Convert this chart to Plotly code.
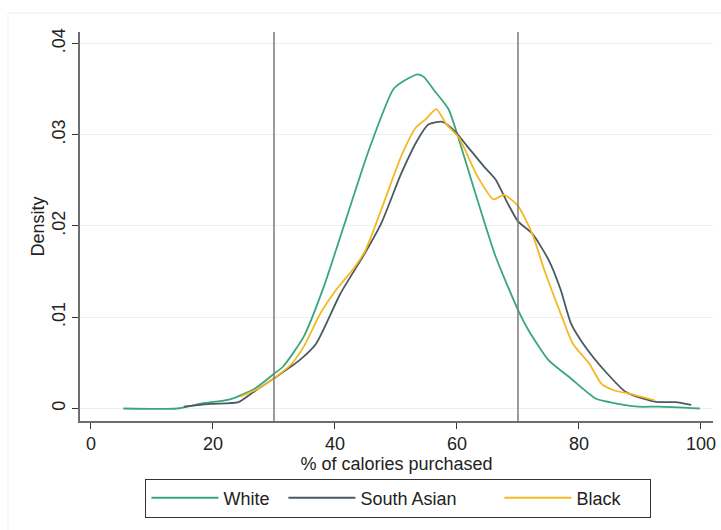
import plotly.graph_objects as go

# Kernel density estimates
white_x = [5.3, 14.1, 18.2, 22.8, 26.9, 30.0, 31.5, 34.9, 38.2, 41.6, 45.6, 49.6, 51.6, 53.6, 54.6,
           56.3, 58.6, 60.3, 63.0, 66.3, 70.0, 71.7, 75.0, 78.3, 82.7, 85.0, 89.7, 93.0, 99.8]
white_y = [0.0, 0.0, 0.00055, 0.001, 0.0022, 0.0038, 0.0046, 0.0079, 0.0134, 0.0203, 0.0284, 0.035,
           0.036, 0.0366, 0.0363, 0.0348, 0.0328, 0.0295, 0.0236, 0.0167, 0.0108, 0.0086, 0.0053,
           0.0035, 0.0011, 0.0007, 0.0002, 0.0002, 0.0]

sa_x = [15.2, 19.5, 24.2, 26.2, 30.0, 34.2, 36.9, 40.9, 44.9, 47.6, 50.9, 53.6, 55.3, 57.6, 59.6,
        61.6, 64.3, 66.3, 68.3, 70.0, 72.3, 75.0, 77.0, 78.7, 81.0, 84.4, 87.7, 90.4, 93.0, 95.8, 98.4]
sa_y = [0.0002, 0.0005, 0.0007, 0.0016, 0.0033, 0.0053, 0.0071, 0.0126, 0.017, 0.0203, 0.0258,
        0.0295, 0.0311, 0.0314, 0.0304, 0.0288, 0.0266, 0.0251, 0.0225, 0.0205, 0.0192, 0.0163,
        0.013, 0.0093, 0.0068, 0.004, 0.0018, 0.0011, 0.0007, 0.0007, 0.0004]

black_x = [24.5, 27.5, 30.0, 32.9, 34.9, 37.6, 40.2, 42.9, 44.9, 47.6, 50.9, 53.3, 54.9, 56.6, 58.3,
           60.3, 63.3, 66.0, 67.7, 70.0, 72.3, 74.3, 77.0, 79.0, 81.7, 83.7, 85.7, 88.4, 92.4]
black_y = [0.0013, 0.0022, 0.0033, 0.0049, 0.0068, 0.0104, 0.013, 0.0152, 0.0172, 0.0218, 0.0277,
           0.0308, 0.0317, 0.0328, 0.0311, 0.0297, 0.0255, 0.0229, 0.0234, 0.0222, 0.0192, 0.0152,
           0.0104, 0.0071, 0.0049, 0.0027, 0.002, 0.0016, 0.0009]

ref_lines = [30, 70]
y_tickvals = [0, 0.01, 0.02, 0.03, 0.04]
y_ticktext = ["0", ".01", ".02", ".03", ".04"]
x_tickvals = [0, 20, 40, 60, 80, 100]

FONT = "Liberation Sans, Arial, sans-serif"
ITEMW = 67
legend_widths = [55, 134, 69]

fig = go.Figure()
series = [
    ("White", white_x, white_y, "#3aa67c"),
    ("South Asian", sa_x, sa_y, "#4a5964"),
    ("Black", black_x, black_y, "#f4b823"),
]
for (name, xs, ys, col), lw in zip(series, legend_widths):
    fig.add_trace(go.Scatter(x=xs, y=ys, mode="lines", name=name, legendwidth=lw,
                             line=dict(color=col, width=1.8, shape="spline", smoothing=0.6)))

for v in ref_lines:
    fig.add_shape(type="line", xref="x", yref="paper", x0=v, x1=v, y0=0, y1=1,
                  line=dict(color="#7a7a7a", width=1.5), layer="above")

# faint outer graph-region border
fig.add_shape(type="rect", xref="paper", yref="paper",
              x0=-72 / 633, x1=1.2, y0=-1.0, y1=(421 - 13) / 389,
              line=dict(color="#efefef", width=1), layer="below")

fig.update_layout(
    width=721, height=530,
    margin=dict(l=80, r=8, t=32, b=109, autoexpand=False),
    paper_bgcolor="white", plot_bgcolor="white",
    font=dict(family=FONT, size=18, color="#222222"),
    showlegend=True,
    legend=dict(orientation="h", xanchor="center", x=0.503, yanchor="top", y=-0.148,
                bordercolor="#333333", borderwidth=1, font=dict(size=18),
                itemwidth=ITEMW, tracegroupgap=0),
    xaxis=dict(range=[-1.8, 101.97], tickvals=x_tickvals, showgrid=False, zeroline=False,
               automargin=False,
               showline=True, linecolor="#6e6e6e", linewidth=1.5,
               ticks="outside", ticklen=6, tickcolor="#333333", tickwidth=1,
               title=dict(text="% of calories purchased", standoff=0, font=dict(size=18)),
               tickfont=dict(size=18)),
    yaxis=dict(range=[-0.00137, 0.04124], tickvals=y_tickvals, ticktext=y_ticktext,
               automargin=False,
               tickangle=-90, showgrid=True, gridcolor="#e9f0f3", gridwidth=1.2, zeroline=False,
               showline=True, linecolor="#6e6e6e", linewidth=1.5,
               ticks="outside", ticklen=6, tickcolor="#333333", tickwidth=1,
               title=dict(text="Density", standoff=0, font=dict(size=18)),
               tickfont=dict(size=18)),
)

fig.write_html("out.html")
